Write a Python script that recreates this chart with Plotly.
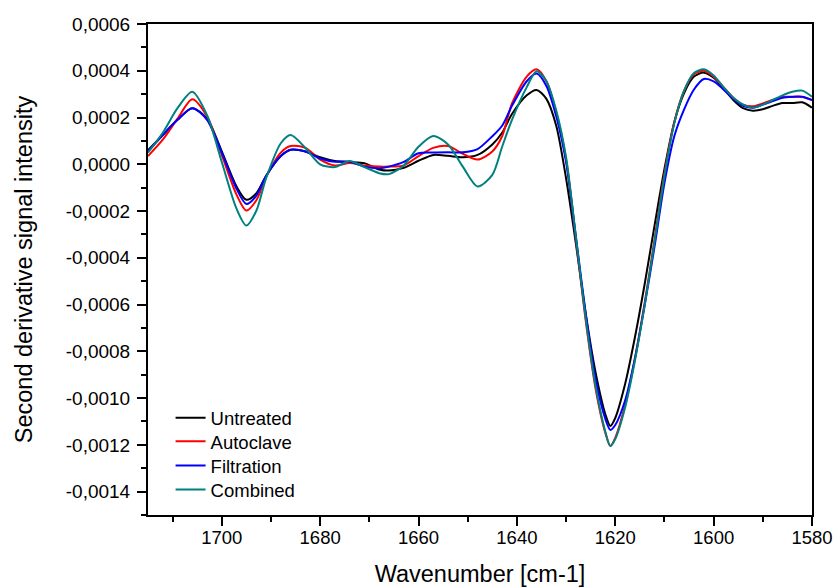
import plotly.graph_objects as go

# Wavenumber grid (cm-1)
wavenumber = [1715, 1712, 1709, 1706, 1703, 1700, 1697, 1695, 1693, 1691, 1688, 1686, 1683, 1680,
              1677, 1674, 1671, 1668, 1666, 1663, 1660, 1657, 1654, 1651, 1648, 1645, 1643, 1641,
              1638, 1636, 1634, 1632, 1630, 1628, 1626, 1624, 1622, 1621, 1620, 1618, 1616, 1614,
              1612, 1610, 1608, 1606, 1604, 1602, 1600, 1598, 1596, 1594, 1592, 1590, 1588, 1586,
              1584, 1582, 1580]

# Second derivative values, in units of 1e-4
untreated = [0.60, 1.25, 1.90, 2.40, 1.95, 0.55, -0.95, -1.52, -1.25, -0.50, 0.35, 0.62, 0.55, 0.30,
             0.14, 0.10, 0.05, -0.22, -0.27, -0.15, 0.15, 0.40, 0.36, 0.30, 0.40, 0.85, 1.35, 2.15,
             2.95, 3.18, 2.80, 1.65, -0.60, -3.40, -6.40, -8.90, -10.70, -11.19, -10.85, -9.40, -7.40, -5.10,
             -2.60, -0.20, 1.80, 3.05, 3.75, 3.92, 3.70, 3.25, 2.75, 2.40, 2.29, 2.35, 2.50, 2.62,
             2.62, 2.65, 2.42]

autoclave = [0.35, 1.05, 1.95, 2.78, 2.05, 0.40, -1.30, -1.98, -1.55, -0.55, 0.50, 0.78, 0.70, 0.20,
             -0.05, 0.05, -0.05, -0.10, -0.10, -0.05, 0.35, 0.70, 0.78, 0.45, 0.20, 0.55, 1.20, 2.60,
             3.75, 4.06, 3.55, 2.20, 0.20, -3.20, -6.70, -9.60, -11.50, -12.05, -11.70, -10.30, -8.30, -5.90,
             -3.20, -0.40, 1.80, 3.15, 3.85, 4.00, 3.75, 3.30, 2.85, 2.55, 2.48, 2.60, 2.75, 2.88,
             2.88, 2.88, 2.75]

filtration = [0.55, 1.25, 1.90, 2.40, 1.90, 0.50, -1.05, -1.70, -1.35, -0.50, 0.35, 0.62, 0.55, 0.25,
              0.11, 0.11, -0.10, -0.17, -0.10, 0.10, 0.47, 0.50, 0.51, 0.51, 0.65, 1.20, 1.65, 2.50,
              3.55, 3.88, 3.35, 2.05, 0.10, -3.10, -6.40, -9.20, -10.90, -11.36, -11.15, -10.10, -8.30, -6.00,
              -3.50, -0.80, 1.20, 2.35, 3.20, 3.65, 3.55, 3.20, 2.80, 2.50, 2.42, 2.55, 2.70, 2.85,
              2.89, 2.89, 2.75]

combined = [0.50, 1.35, 2.40, 3.10, 2.10, 0.10, -1.90, -2.62, -2.00, -0.60, 0.90, 1.25, 0.70, 0.00,
            -0.12, 0.14, -0.12, -0.38, -0.42, -0.05, 0.75, 1.21, 0.85, -0.10, -0.95, -0.45, 0.75, 1.90,
            3.30, 3.98, 3.55, 2.30, 0.30, -3.10, -6.60, -9.50, -11.45, -12.05, -11.75, -10.40, -8.40, -6.00,
            -3.30, -0.50, 1.75, 3.15, 3.90, 4.06, 3.80, 3.30, 2.85, 2.55, 2.42, 2.55, 2.75, 2.95,
            3.10, 3.15, 2.89]

SCALE = 1e-4
series_names = ["Untreated", "Autoclave", "Filtration", "Combined"]
series_values = [untreated, autoclave, filtration, combined]
series_colors = ["#000000", "#FF0000", "#0000FF", "#008080"]

y_tickvals = [0.0006, 0.0004, 0.0002, 0.0, -0.0002, -0.0004, -0.0006, -0.0008, -0.0010, -0.0012, -0.0014]
y_ticktext = ["0,0006", "0,0004", "0,0002", "0,0000", "-0,0002", "-0,0004", "-0,0006", "-0,0008",
              "-0,0010", "-0,0012", "-0,0014"]
x_tickvals = [1700, 1680, 1660, 1640, 1620, 1600, 1580]
x_ticktext = ["1700", "1680", "1660", "1640", "1620", "1600", "1580"]

FONT = "Liberation Sans, Arial, sans-serif"
legend_ids = ["legend", "legend2", "legend3", "legend4"]
legend_y = [0.197, 0.149, 0.100, 0.051]

fig = go.Figure()
for name, vals, col, lid in zip(series_names, series_values, series_colors, legend_ids):
    fig.add_trace(go.Scatter(
        x=wavenumber, y=[v * SCALE for v in vals], name=name, mode="lines",
        line=dict(color=col, width=2, shape="spline", smoothing=0.8),
        legend=lid,
    ))

layout_legends = {}
for lid, ly in zip(legend_ids, legend_y):
    layout_legends[lid] = dict(
        x=0.034, y=ly, xanchor="left", yanchor="middle",
        bgcolor="rgba(0,0,0,0)", borderwidth=0,
        font=dict(family=FONT, size=18.5, color="black"),
        itemwidth=30,
    )

fig.update_layout(
    width=833, height=587,
    margin=dict(l=148, r=21, t=24, b=72, autoexpand=False),
    paper_bgcolor="white", plot_bgcolor="white",
    font=dict(family=FONT, size=18, color="black"),
    showlegend=True,
    **layout_legends,
)

fig.update_xaxes(
    range=[1715, 1580], autorange=False, automargin=False,
    tickvals=x_tickvals, ticktext=x_ticktext, ticklabeloverflow="allow",
    ticks="outside", ticklen=9, tickwidth=2, tickcolor="black", ticklabelstandoff=-4,
    minor=dict(ticks="outside", dtick=10, tick0=1700, ticklen=5, tickwidth=2, tickcolor="black"),
    showline=True, linecolor="black", linewidth=2, mirror=True,
    showgrid=False, zeroline=False,
    tickfont=dict(family=FONT, size=18.5, color="black"),
    title=dict(text="Wavenumber [cm-1]", font=dict(family=FONT, size=23.5, color="black"), standoff=25),
)
fig.update_yaxes(
    range=[-0.0015, 0.0006], autorange=False, automargin=False,
    tickvals=y_tickvals, ticktext=y_ticktext, ticklabeloverflow="allow",
    ticks="outside", ticklen=9, tickwidth=2, tickcolor="black", ticklabelstandoff=3,
    minor=dict(ticks="outside", dtick=0.0001, tick0=0, ticklen=5, tickwidth=2, tickcolor="black"),
    showline=True, linecolor="black", linewidth=2, mirror=True,
    showgrid=False, zeroline=False,
    tickfont=dict(family=FONT, size=19, color="black"),
    title=dict(text="Second derivative signal intensity", font=dict(family=FONT, size=23.5, color="black"), standoff=27),
)

fig.write_html("out.html",
               config={"displayModeBar": False},
               post_script="document.body.style.margin='0';document.body.style.overflow='hidden';")
